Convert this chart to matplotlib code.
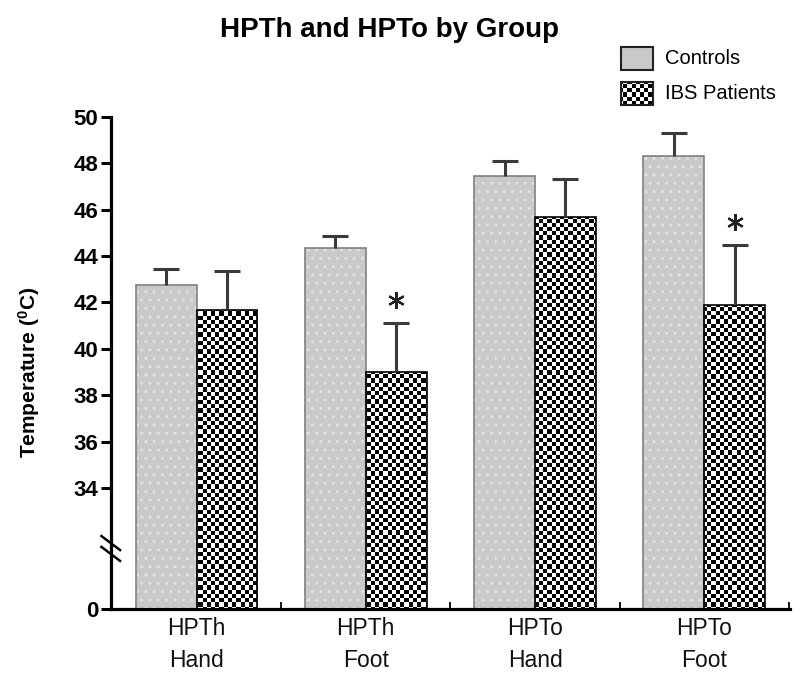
import numpy as np
import matplotlib
matplotlib.use("Agg")
from matplotlib import pyplot as plt
from matplotlib.patches import Rectangle

plt.rcParams['font.family'] = ['Liberation Sans', 'DejaVu Sans']
plt.rcParams['mathtext.fontset'] = 'custom'
plt.rcParams['mathtext.bf'] = 'Liberation Sans:bold'
plt.rcParams['mathtext.rm'] = 'Liberation Sans'
plt.rcParams['mathtext.default'] = 'bf'
plt.rcParams['hatch.linewidth'] = 1.0

# datos
grupos = ['HPTh\nHand', 'HPTh\nFoot', 'HPTo\nHand', 'HPTo\nFoot']
controles = [42.75, 44.33, 47.44, 48.31]
controles_err = [0.68, 0.54, 0.65, 0.99]
ibs = [41.66, 39.01, 45.66, 41.90]
ibs_err = [1.70, 2.10, 1.67, 2.58]
significativo = [False, True, False, True]
y_ticks = [0, 34, 36, 38, 40, 42, 44, 46, 48, 50]

# eje cortado: de 0 a 34 se comprime
CORTE = 34.0
HUECO = 5.21


def fwd(v):
    v = np.asarray(v, dtype=float)
    return np.where(v >= CORTE, v, CORTE - (CORTE - v) * HUECO / CORTE)


def inv(u):
    u = np.asarray(u, dtype=float)
    return np.where(u >= CORTE, u, CORTE - (CORTE - u) * CORTE / HUECO)


fig = plt.figure(figsize=(8, 6.74), dpi=100)
ax = fig.add_axes([0.1384, 0.0964, 0.849, 0.7304])
ax.set_yscale('function', functions=(fwd, inv))

# tablero para el relleno de los pacientes
tablero = np.indices((160, 190)).sum(axis=0) % 2


def relleno_tablero(rect):
    im = ax.imshow(tablero, cmap='gray', vmin=0, vmax=1, interpolation='nearest',
                   extent=(0, 1, 0, 1), transform=fig.transFigure, aspect='auto',
                   zorder=rect.get_zorder() - 0.05)
    im.set_clip_path(rect)


x = np.arange(len(grupos))
ancho = 0.36

ax.bar(x - ancho / 2, controles, ancho, color='#c9c9c9', edgecolor='none', zorder=2)
ax.bar(x - ancho / 2, controles, ancho, color='none', edgecolor='#e2e2e2',
       linewidth=0, hatch='..', zorder=2.05)
ax.bar(x - ancho / 2, controles, ancho, color='none', edgecolor='#808080',
       linewidth=1.2, zorder=2.3)

barras_ibs = ax.bar(x + ancho / 2, ibs, ancho, color='none', edgecolor='black',
                    linewidth=1.2, zorder=2.3)
for b in barras_ibs:
    relleno_tablero(b)

for pos, val, err in [(x - ancho / 2, controles, controles_err), (x + ancho / 2, ibs, ibs_err)]:
    res = ax.errorbar(pos, val, yerr=[np.zeros(len(err)), err], fmt='none',
                      ecolor='#3a3a3a', elinewidth=2.2, capsize=9.7, capthick=2.2, zorder=3)
    for cl in res[1]:
        if np.allclose(cl.get_ydata(), val):
            cl.set_visible(False)

# asteriscos de significancia
sig = np.array(significativo)
ax.plot((x + ancho / 2)[sig], (np.array(ibs) + np.array(ibs_err) + 1.0)[sig],
        linestyle='none', marker=(6, 2, 0), markersize=12, markeredgewidth=1.6,
        color='#222222', zorder=4)

ax.set_xlim(-0.507, 3.506)
ax.set_ylim(0, 50)
ax.set_yticks(y_ticks)
ax.set_yticklabels([str(t) for t in y_ticks], fontweight='bold', fontsize=16)
ax.set_xticks(x)
ax.set_xticklabels(grupos, fontsize=16.5, linespacing=1.5, color='#111111')
ax.set_xticks(x + 0.5, minor=True)
ax.tick_params(axis='x', which='major', length=0, pad=6)
ax.tick_params(axis='x', which='minor', direction='in', length=5, width=1.3)
ax.tick_params(axis='y', which='major', direction='out', length=7.5, width=2.2, pad=1.5)
ax.yaxis.set_minor_locator(matplotlib.ticker.NullLocator())

for lado in ['top', 'right']:
    ax.spines[lado].set_visible(False)
for lado in ['left', 'bottom']:
    ax.spines[lado].set_linewidth(2.3)

ax.set_ylabel(r'Temperature ($^{0}$C)', fontsize=15, fontweight='bold')
ax.yaxis.set_label_coords(-0.101, 0.48)

# marcas del corte
for yc in [0.134, 0.112]:
    ax.plot([-0.0137, 0.0137], [yc + 0.0142, yc - 0.0142], transform=ax.transAxes,
            color='black', linewidth=1.8, clip_on=False, zorder=5)

fig.text(390 / 800, 1 - 30 / 674, 'HPTh and HPTo by Group', ha='center', va='center',
         fontsize=20, fontweight='bold')

# leyenda manual
leyenda = [('Controls', 1 - 70 / 674, 'gris'), ('IBS Patients', 1 - 105 / 674, 'tablero')]
for texto, y0, tipo in leyenda:
    h = 23.5 / 674
    if tipo == 'gris':
        r = Rectangle((621 / 800, y0), 32 / 800, h, transform=fig.transFigure,
                      facecolor='#c9c9c9', edgecolor='#222222', linewidth=1.5,
                      clip_on=False, zorder=6)
        ax.add_patch(r)
    else:
        r = Rectangle((621 / 800, y0), 32 / 800, h, transform=fig.transFigure,
                      facecolor='none', edgecolor='#222222', linewidth=1.5,
                      clip_on=False, zorder=6)
        ax.add_patch(r)
        relleno_tablero(r)
    fig.text(665 / 800, y0 + h / 2, texto, ha='left', va='center', fontsize=14.5)

fig.savefig('out.png', dpi=100)
